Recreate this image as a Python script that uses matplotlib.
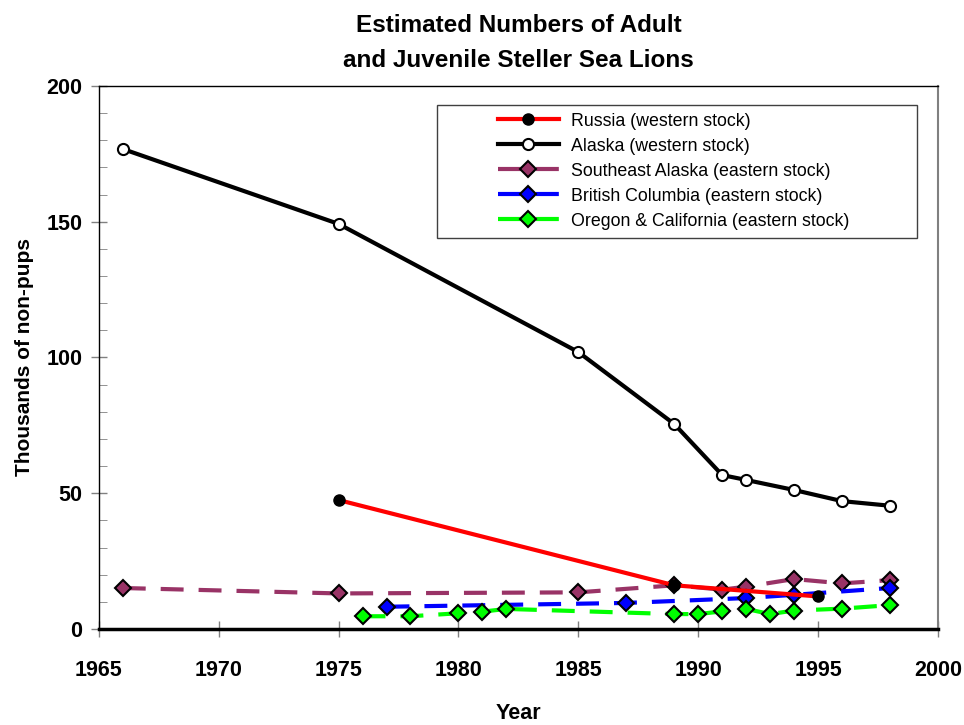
import matplotlib
matplotlib.use("Agg")
import matplotlib.pyplot as plt
from matplotlib.patches import Rectangle

# data (thousands of non-pups)
russia_years = [1975, 1989, 1995]
russia_vals = [47.5, 16.1, 12.0]

alaska_years = [1966, 1975, 1985, 1989, 1991, 1992, 1994, 1996, 1998]
alaska_vals = [176.8, 149.2, 102.0, 75.5, 56.7, 54.9, 51.2, 47.1, 45.4]

se_alaska_years = [1966, 1975, 1985, 1989, 1991, 1992, 1994, 1996, 1998]
se_alaska_vals = [15.1, 13.1, 13.5, 16.1, 14.5, 15.6, 18.4, 16.8, 18.0]

bc_years = [1977, 1987, 1992, 1994, 1998]
bc_vals = [8.2, 9.6, 11.4, 12.6, 15.1]

oregon_years = [1976, 1978, 1980, 1981, 1982, 1989, 1990, 1991, 1992, 1993, 1994, 1996, 1998]
oregon_vals = [4.7, 4.7, 5.8, 6.4, 7.4, 5.5, 5.5, 6.5, 7.4, 5.5, 6.8, 7.5, 8.8]

x_ticks = [1965, 1970, 1975, 1980, 1985, 1990, 1995, 2000]
y_ticks = [0, 50, 100, 150, 200]

plt.rcParams["font.family"] = ["Liberation Sans", "DejaVu Sans"]

fig = plt.figure(figsize=(9.64, 7.25), dpi=100)
ax = fig.add_axes([0.1025, 0.1324, 0.8705, 0.749])

dash = (5.5, 3.6)
ax.plot(russia_years, russia_vals, color="#FF0000", lw=3, marker="o", ms=8,
        mfc="black", mec="black", label="Russia (western stock)", zorder=4)
ax.plot(alaska_years, alaska_vals, color="black", lw=3, marker="o", ms=8,
        mfc="white", mec="black", mew=1.5, label="Alaska (western stock)", zorder=5)
ax.plot(se_alaska_years, se_alaska_vals, color="#993366", lw=3, dashes=dash,
        marker="D", ms=8, mfc="#993366", mec="black", mew=1.5,
        label="Southeast Alaska (eastern stock)", zorder=3)
ax.plot(bc_years, bc_vals, color="#0000FF", lw=3, dashes=dash,
        marker="D", ms=8, mfc="#0000FF", mec="black", mew=1.5,
        label="British Columbia (eastern stock)", zorder=3)
ax.plot(oregon_years, oregon_vals, color="#00FF00", lw=3, dashes=dash,
        marker="D", ms=8, mfc="#00FF00", mec="black", mew=1.5,
        label="Oregon & California (eastern stock)", zorder=3)

ax.set_xlim(1965, 2000)
ax.set_ylim(0, 200)
ax.set_xticks(x_ticks)
ax.set_yticks(y_ticks)
ax.set_yticks(range(0, 201, 10), minor=True)
ax.tick_params(axis="both", which="major", direction="inout", length=12,
               width=1, color="gray", labelsize=15.5)
ax.tick_params(axis="x", which="major", pad=16)
ax.tick_params(axis="y", which="major", pad=6)
ax.tick_params(axis="y", which="minor", direction="in", length=6, color="gray")
for lab in ax.get_xticklabels() + ax.get_yticklabels():
    lab.set_fontweight("bold")

for side in ["left", "bottom", "top"]:
    ax.spines[side].set_color("black")
ax.spines["bottom"].set_linewidth(2.5)
ax.spines["left"].set_linewidth(1)
ax.spines["top"].set_linewidth(1)
ax.spines["right"].set_color("gray")
ax.spines["right"].set_linewidth(1.5)

ax.set_xlabel("Year", fontsize=15.5, fontweight="bold", labelpad=16)
ax.set_ylabel("Thousands of non-pups", fontsize=15, fontweight="bold", labelpad=9)
ax.set_title("Estimated Numbers of Adult\nand Juvenile Steller Sea Lions",
             fontsize=17.5, fontweight="bold", pad=14, linespacing=1.65)

# legend box drawn separately to match the wide left padding
ax.add_patch(Rectangle((0.403, 0.720), 0.572, 0.245, transform=ax.transAxes,
                       facecolor="white", edgecolor="#404040", lw=1, zorder=6))
ax.legend(loc="upper left", bbox_to_anchor=(0.476, 0.951), frameon=False,
          fontsize=12.8, handlelength=3.4, handletextpad=0.7,
          labelspacing=0.45, borderaxespad=0, borderpad=0).set_zorder(7)

fig.savefig("out.png", dpi=100)
